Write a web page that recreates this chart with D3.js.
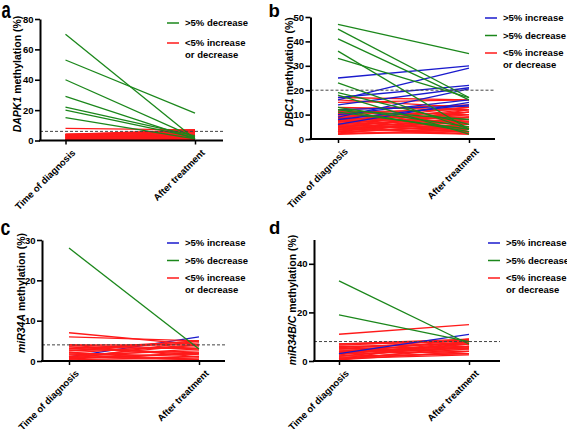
<!DOCTYPE html>
<html><head><meta charset="utf-8">
<script src="https://cdn.jsdelivr.net/npm/d3@7"></script>
<style>body{margin:0;background:#fff}svg{display:block}text{font-family:"Liberation Sans",Arial,sans-serif;font-weight:bold}</style>
</head><body>
<svg id="chart" width="567" height="429"></svg>
<script>
// ---------- data ----------
const categories = ["Time of diagnosis", "After treatment"];
const legendLabels = [">5% increase", ">5% decrease", "<5% increase", "or decrease"];

// Panel a: DAPK1 (no increase group)
const aTicks = [0, 20, 40, 60, 80];
const aGreen = [[70,1],[53,18],[40,2],[29,1],[22,3],[20,2],[15,1]];
const aBlue = [];
const aRed = [[8,7],[4,6],[4,5],[3,7],[3,4],[2,5],[2,3],[1,4],[1,2],[0.5,3],[0.3,1],[3,2],[2,1],[1,0.5],[4,3],[0.5,6],[1.5,5],[2.5,0.5],[3.5,1.5],[0.2,0.2],[4,7],[3,6],[2,6.5],[1,3.5],[3.8,2.5]];
const aThreshold = 6;

// Panel b: DBC1
const bTicks = [0, 10, 20, 30, 40, 50];
const bGreen = [[47,35],[45,17],[41,16],[36,4],[33,17],[23,4],[19,6],[18,2],[13,5],[12,3],[12,8],[11,4]];
const bBlue = [[25,30],[16,29],[17,22],[14,21],[9,20.5],[10,16],[6,15],[8,14],[12,13.5]];
const bRed = [[17,16],[16,13],[12,14],[11,10],[11,12],[10,8],[10,13],[9,11],[9,6],[8,10],[8,5],[7,12],[7,9],[7,4],[6,8],[6,11],[6,3],[5,7],[5,10],[5,4],[4,6],[4,9],[4,3],[3,5],[3,8],[3,2],[2,4],[2,3],[2.5,6],[3.5,7],[4.5,11],[5.5,5],[6.5,2.5],[8.5,7],[9.5,9],[10.5,4],[12,6],[13,12],[11.5,3],[7.5,13],[2,9],[3,12],[5,2],[8,3],[15,16]];
const bThreshold = 20;

// Panel c: miR34A
const cTicks = [0, 10, 20, 30];
const cGreen = [[28,3]];
const cBlue = [[1,6]];
const cRed = [[7,4],[6,5],[4,4],[4,3],[3,5],[3,2],[2,4],[2,1],[1,3],[1,0.5],[0.5,2],[0.5,5],[2.5,3.5],[3.5,1.5],[1.5,2.5],[0.2,0.2],[0.3,1],[2,0.3],[3,4.5],[1,4],[4,1],[2.5,5],[1.5,0.2],[3.5,3],[0.8,1.8]];
const cThreshold = 4;

// Panel d: miR34B/C
const dTicks = [0, 20, 40];
const dGreen = [[33,7],[19,8]];
const dBlue = [[3,11]];
const dRed = [[11,15],[7,8],[7,9],[6,7],[5,9],[5,6],[4,8],[4,5],[3,7],[3,4],[2,6],[2,3],[1,5],[1,8],[0.5,4],[6,5],[5,4],[4,6],[3,9],[2,7],[1.5,3],[0.5,6],[6.5,8.5],[5.5,7.5],[4.5,3],[3.5,5.5],[2.5,8],[1,2.5]];
const dThreshold = 8;

// ---------- layout ----------
const colors = {inc: "#1a1acd", dec: "#1b871b", red: "#ff1a1a"};
const svg = d3.select("#chart");

const panels = [
  {letter:"a", lt:"translate(1.5,18.3) scale(0.9,1.33)", gene:"DAPK1", labX:20.5, labY:74, axisX:40, yTop:19, yBot:140.5, xEnd:223, c0:65.5, c1:195, max:80, ticks:aTicks, green:aGreen, blue:aBlue, red:aRed, thr:aThreshold, legX:167, legY:23, hasInc:false, blueFirst:false},
  {letter:"b", lt:"translate(268.5,17.4) scale(1,1)", gene:"DBC1", labX:292.5, labY:72, axisX:310.5, yTop:17, yBot:139, xEnd:495, c0:338, c1:469, max:50, ticks:bTicks, green:bGreen, blue:bBlue, red:bRed, thr:bThreshold, legX:485, legY:18, hasInc:true, blueFirst:false},
  {letter:"c", lt:"translate(0.5,235) scale(0.95,1.2)", gene:"miR34A", labX:24.5, labY:293, axisX:42, yTop:240, yBot:361, xEnd:225, c0:69, c1:199, max:30, ticks:cTicks, green:cGreen, blue:cBlue, red:cRed, thr:cThreshold, legX:167, legY:243, hasInc:true, blueFirst:true},
  {letter:"d", lt:"translate(269,233.5) scale(1,1)", gene:"miR34B/C", labX:296, labY:300, axisX:314, yTop:239.5, yBot:361, xEnd:500, c0:339, c1:469, max:50, ticks:dTicks, green:dGreen, blue:dBlue, red:dRed, thr:dThreshold, legX:488, legY:243, hasInc:true, blueFirst:false}
];

panels.forEach(p => {
  const g = svg.append("g");
  const x = d3.scalePoint().domain(categories).range([p.c0, p.c1]);
  const y = d3.scaleLinear().domain([0, p.max]).range([p.yBot, p.yTop]);
  const line = d3.line().x((d,i)=>x(categories[i])).y(d=>y(d));

  const drawSet = (arr, col) => g.append("g").selectAll("path").data(arr).join("path")
      .attr("d", d => line(d)).attr("fill","none").attr("stroke", col).attr("stroke-width", 1.3);

  if (p.blueFirst) { drawSet(p.blue, colors.inc); drawSet(p.red, colors.red); }
  else { drawSet(p.red, colors.red); drawSet(p.blue, colors.inc); }
  drawSet(p.green, colors.dec);

  // threshold
  g.append("line").attr("x1", p.axisX).attr("x2", p.xEnd).attr("y1", y(p.thr)).attr("y2", y(p.thr))
    .attr("stroke", "#444").attr("stroke-width", 1).attr("stroke-dasharray", "3,2");

  // y axis
  const ya = g.append("g").attr("transform", `translate(${p.axisX},0)`)
    .call(d3.axisLeft(y).tickValues(p.ticks).tickSize(5).tickSizeOuter(0).tickPadding(1.5));
  ya.select(".domain").attr("stroke", "#000").attr("stroke-width", 2);
  ya.selectAll(".tick line").attr("stroke", "#000").attr("stroke-width", 1.6);
  ya.selectAll(".tick text").attr("font-size", 9.5).attr("fill", "#000")
    .attr("font-family", '"Liberation Sans",Arial,sans-serif').attr("font-weight", "bold");

  // x axis
  const xa = g.append("g").attr("transform", `translate(0,${p.yBot})`)
    .call(d3.axisBottom(x).tickSize(4).tickSizeOuter(0).tickPadding(3));
  xa.select(".domain").remove();
  xa.append("line").attr("x1", p.axisX - 1).attr("x2", p.xEnd).attr("stroke", "#000").attr("stroke-width", 2);
  xa.selectAll(".tick line").attr("stroke", "#000").attr("stroke-width", 1.5);
  xa.selectAll(".tick text").attr("font-size", 9.5).attr("fill", "#000")
    .attr("font-family", '"Liberation Sans",Arial,sans-serif').attr("font-weight", "bold")
    .attr("text-anchor", "end").attr("dy", "0.3em")
    .attr("transform", "translate(3,6) rotate(-45)");

  // y label
  const t = g.append("text").attr("transform", `translate(${p.labX},${p.labY}) rotate(-90)`)
    .attr("text-anchor", "middle").attr("font-size", 10.5).attr("fill", "#000");
  t.append("tspan").attr("font-style", "italic").text(p.gene);
  t.append("tspan").text(" methylation (%)");

  // panel letter
  g.append("text").attr("transform", p.lt).attr("font-size", 18.5).attr("fill", "#000").text(p.letter);

  // legend
  const items = [];
  if (p.hasInc) items.push({c: colors.inc, lines: [legendLabels[0]]});
  items.push({c: colors.dec, lines: [legendLabels[1]]});
  items.push({c: colors.red, lines: [legendLabels[2], legendLabels[3]]});
  const step = p.hasInc ? 17.5 : 20;
  items.forEach((it, i) => {
    const ly = p.legY + i * step;
    g.append("line").attr("x1", p.legX).attr("x2", p.legX + 12).attr("y1", ly).attr("y2", ly)
      .attr("stroke", it.c).attr("stroke-width", 1.5);
    it.lines.forEach((s, j) => {
      g.append("text").attr("x", p.legX + 18).attr("y", ly + j * 11.5).attr("dy", "0.35em")
        .attr("font-size", 9.5).attr("fill", "#000").text(s);
    });
  });
});
</script>
</body></html>
